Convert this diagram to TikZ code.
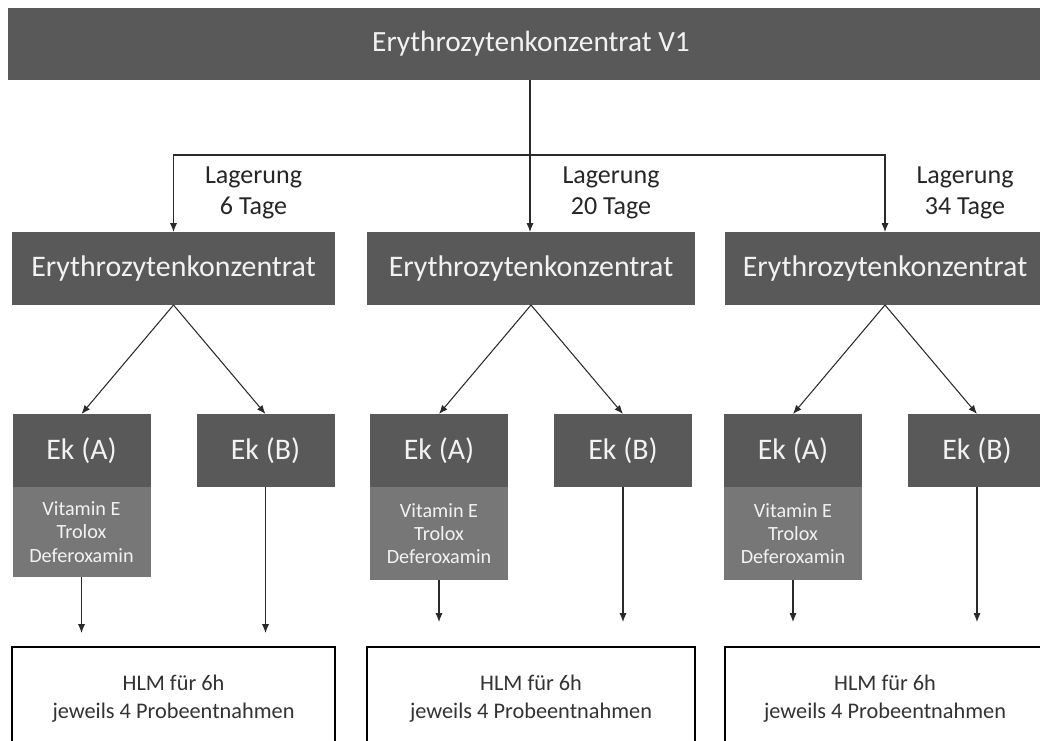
\documentclass[tikz,border=0pt]{standalone}
\usepackage{fontspec}
\setmainfont{Carlito}
\usetikzlibrary{arrows.meta}
\definecolor{boxgray}{HTML}{595959}
\definecolor{subgray}{HTML}{777777}
\definecolor{txtwhite}{HTML}{F2F2F2}
\definecolor{linegray}{HTML}{2A2A2A}

\begin{document}
\begin{tikzpicture}[x=0.02cm, y=-0.02cm, >={Latex[length=5pt,width=4pt]}]
\tikzstyle{darkStyle}=[rectangle, fill=boxgray, text=txtwhite, inner sep=0pt,
outer sep=0pt, font=\fontsize{17}{20}\selectfont]
\tikzstyle{subStyle}=[rectangle, fill=subgray, text=txtwhite, inner sep=0pt,
outer sep=0pt, align=center, font=\fontsize{11.5}{13.3}\selectfont]
\tikzstyle{hlmStyle}=[rectangle, draw=black, fill=white, semithick, inner sep=0pt,
outer sep=0pt, align=center, text=black!80, font=\fontsize{12.7}{16}\selectfont]
\tikzstyle{lagStyle}=[align=center, inner sep=0pt, text=black!85, font=\fontsize{14.8}{17.6}\selectfont]
\tikzstyle{connStyle}=[line width=0.6pt, draw=linegray]

\useasboundingbox (0,0) rectangle (1040,740);
\clip (0,0) rectangle (1040,740);

\node[darkStyle, minimum width=1032*0.02cm, minimum height=72*0.02cm] (top) at (524,44) {\hspace{8pt}\fontsize{16.7}{20}\selectfont Erythrozytenkonzentrat V1};
\coordinate (split) at (530,155);
\draw[connStyle] (top.south -| split) -- (split);

\foreach \c/\x/\w/\d/\h/\e in {l/173.5/323/6/90/633, m/531/328/20/93/622, r/885/320/34/93/622}
{
	\node[darkStyle, minimum width=\w*0.02cm, minimum height=73*0.02cm] (ery\c) at (\x,268.5) {Erythrozytenkonzentrat};
	\node[lagStyle] (lag\c) at (\x+80,193) {Lagerung\\\d~Tage};
	\node[darkStyle, minimum width=138*0.02cm, minimum height=73*0.02cm] (eka\c) at (\x-92,450.5) {Ek (A)};
	\node[darkStyle, minimum width=138*0.02cm, minimum height=73*0.02cm] (ekb\c) at (\x+92,450.5) {Ek (B)};
	\node[subStyle, anchor=north, minimum width=138*0.02cm, minimum height=\h*0.02cm] (sub\c) at (eka\c.south) {Vitamin E\\Trolox\\Deferoxamin};
	\node[hlmStyle, minimum width=\w*0.02cm, minimum height=104*0.02cm] (hlm\c) at (\x,699) {HLM für 6h\\jeweils 4 Probeentnahmen};

	\coordinate (enda\c) at (sub\c.south |- 0,\e);
	\coordinate (endb\c) at (ekb\c.south |- 0,\e);
	\draw[connStyle, ->] (ery\c.south) -- (eka\c.north);
	\draw[connStyle, ->] (ery\c.south) -- (ekb\c.north);
	\draw[connStyle, ->] (sub\c) -- (enda\c);
	\draw[connStyle, ->] (ekb\c) -- (endb\c);
}

\draw[connStyle, ->] (split) -| (eryl.north);
\draw[connStyle, ->] (split) -| (eryr.north);
\draw[connStyle, ->] (split) -- (split |- erym.north);
\end{tikzpicture}
\end{document}
